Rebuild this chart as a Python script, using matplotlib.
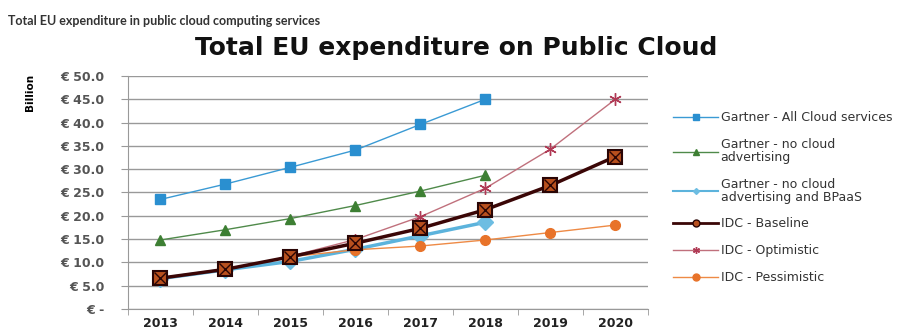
import matplotlib.pyplot as plt
from matplotlib.lines import Line2D
import numpy as np

years = ["2013", "2014", "2015", "2016", "2017", "2018", "2019", "2020"]
gartner_all = [23.5, 26.8, 30.4, 34.1, 39.6, 45.0]
gartner_no_adv = [14.8, 17.0, 19.4, 22.2, 25.3, 28.7]
gartner_no_adv_bpaas = [6.5, 8.4, 10.2, 12.8, 15.7, 18.6]
idc_baseline = [6.6, 8.5, 11.2, 14.1, 17.3, 21.3, 26.5, 32.7]
idc_optimistic = [6.6, 8.5, 11.3, 14.9, 19.8, 25.9, 34.3, 45.0]
idc_pessimistic = [6.6, 8.5, 11.2, 12.7, 13.5, 14.8, 16.4, 18.0]
yticks = [0, 5, 10, 15, 20, 25, 30, 35, 40, 45, 50]
ytick_labels = ["€ -"] + ["€ %.1f" % v for v in yticks[1:]]

fig = plt.figure(figsize=(9.01, 3.29), dpi=100)
ax = fig.add_axes([0.142, 0.061, 0.577, 0.708])

x = np.arange(len(years))

ax.plot(x[:6], gartner_all, color="#3a9ad4", lw=1, marker="s", ms=7,
        mfc="#2a8fd0", mec="#2a8fd0", zorder=3)
ax.plot(x[:6], gartner_no_adv, color="#4f8a4a", lw=1, marker="^", ms=7,
        mfc="#3d7f33", mec="#3d7f33", zorder=3)
ax.plot(x[:6], gartner_no_adv_bpaas, color="#5cb3dc", lw=2.5, marker="D", ms=8,
        mfc="#6dbde2", mec="#6dbde2", zorder=3)
ax.plot(x, idc_pessimistic, color="#ee8a45", lw=1, marker="o", ms=7,
        mfc="#e8732a", mec="#e8732a", zorder=4)
ax.plot(x, idc_optimistic, color="#c0707c", lw=1, marker=(6, 2, 0), ms=9,
        mec="#b03a55", mew=1, zorder=4)
ax.plot(x, idc_baseline, color="#3a0606", lw=2.5, marker="s", ms=10,
        mfc="#b8501e", mec="#2a0505", mew=1.5, zorder=5)
ax.plot(x, idc_baseline, ls="none", marker="x", ms=8, mec="#2a0505", mew=1, zorder=6)

ax.set_xlim(-0.5, 7.5)
ax.set_ylim(0, 50)
ax.set_xticks(x)
ax.set_xticklabels(years, fontsize=9, fontweight="bold", color="#222222")
ax.set_xticks(np.arange(-0.5, 8, 1), minor=True)
ax.tick_params(axis="x", which="major", length=0, pad=6)
ax.tick_params(axis="x", which="minor", length=4, color="#999999")
ax.set_yticks(yticks)
ax.set_yticklabels(ytick_labels, fontsize=9, fontweight="bold", color="#555555")
ax.tick_params(axis="y", length=5, color="#999999", pad=12)
ax.grid(axis="y", color="#999999", lw=1)
ax.set_axisbelow(True)
for s in ["top", "right"]:
    ax.spines[s].set_visible(False)
for s in ["left", "bottom"]:
    ax.spines[s].set_color("#999999")

fig.text(0.033, 0.72, "Billion", rotation=90, fontsize=7.5, fontweight="bold",
         ha="center", va="center")

fig.text(0.009, 0.935, "Total EU expenditure in public cloud computing services",
         fontsize=9, fontweight="bold", color="#333333", family="Lato",
         va="center")
fig.text(0.506, 0.854, "Total EU expenditure on Public Cloud", fontsize=18,
         fontweight="bold", family="DejaVu Sans", color="#111111",
         ha="center", va="center")

handles = [
    Line2D([], [], color="#3a9ad4", lw=1, marker="s", ms=4, mfc="#2a8fd0", mec="#2a8fd0"),
    Line2D([], [], color="#4f8a4a", lw=1, marker="^", ms=4, mfc="#3d7f33", mec="#3d7f33"),
    Line2D([], [], color="#5cb3dc", lw=1.5, marker="D", ms=3, mfc="#6dbde2", mec="#6dbde2"),
    Line2D([], [], color="#3a0606", lw=2, marker="o", ms=5, mfc="#b8501e", mec="#2a0505"),
    Line2D([], [], color="#c0707c", lw=1, marker=(6, 2, 0), ms=5, mec="#b03a55"),
    Line2D([], [], color="#ee8a45", lw=1, marker="o", ms=5, mfc="#e8732a", mec="#e8732a"),
]
labels = ["Gartner - All Cloud services", "Gartner - no cloud\nadvertising",
          "Gartner - no cloud\nadvertising and BPaaS", "IDC - Baseline",
          "IDC - Optimistic", "IDC - Pessimistic"]
leg = fig.legend(handles, labels, loc="upper left", bbox_to_anchor=(0.747, 0.662),
                 frameon=False, fontsize=9, handlelength=3.6, labelspacing=1.1,
                 handletextpad=0.2, borderaxespad=0, borderpad=0)
for t in leg.get_texts():
    t.set_color("#333333")
    t.set_linespacing(1.0)

fig.savefig("out.png", dpi=100)
